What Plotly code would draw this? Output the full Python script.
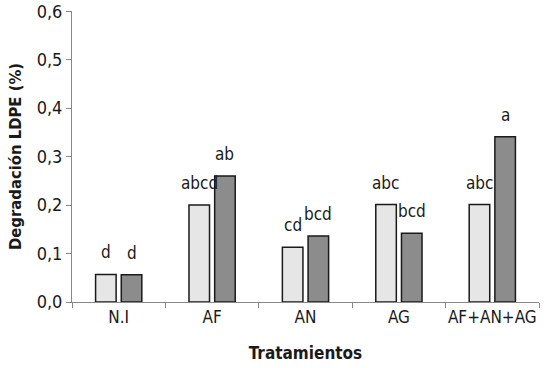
import plotly.graph_objects as go

categories = ["N.I", "AF", "AN", "AG", "AF+AN+AG"]
series1 = [0.057, 0.200, 0.113, 0.201, 0.201]
series2 = [0.056, 0.260, 0.136, 0.142, 0.341]
labels1 = ["d", "abcd", "cd", "abc", "abc"]
labels2 = ["d", "ab", "bcd", "bcd", "a"]
yticks = [0.0, 0.1, 0.2, 0.3, 0.4, 0.5, 0.6]

FONT = "DejaVu Sans Condensed, Roboto, sans-serif"

fig = go.Figure()
fig.add_trace(go.Bar(x=categories, y=series1,
                     marker=dict(color="#e6e6e6", line=dict(color="#1a1a1a", width=1.5))))
fig.add_trace(go.Bar(x=categories, y=series2,
                     marker=dict(color="#8c8c8c", line=dict(color="#1a1a1a", width=1.5))))

for cat, v, t in zip(categories, series1, labels1):
    fig.add_annotation(x=cat, y=v, text=t, showarrow=False, xshift=-12.8, yshift=10,
                       yanchor="bottom", font=dict(size=17, family=FONT, color="#1a1a1a"))
for cat, v, t in zip(categories, series2, labels2):
    fig.add_annotation(x=cat, y=v, text=t, showarrow=False, xshift=12.8, yshift=10,
                       yanchor="bottom", font=dict(size=17, family=FONT, color="#1a1a1a"))

fig.update_layout(
    width=546, height=368,
    margin=dict(l=72, r=7, t=11, b=66),
    plot_bgcolor="white", paper_bgcolor="white",
    showlegend=False,
    bargap=0.45, bargroupgap=0.2,
    separators=", ",
    font=dict(family=FONT, color="#1a1a1a", size=16),
)
fig.update_xaxes(showline=True, linecolor="#888888", linewidth=1, ticks="outside",
                 tickson="boundaries", ticklen=5, tickcolor="#888888", automargin=False,
                 tickangle=0, tickfont=dict(size=17, family=FONT),
                 title=dict(text="<b>Tratamientos</b>", font=dict(size=17, family=FONT), standoff=20))
fig.update_yaxes(range=[0, 0.6005], tickvals=yticks, tickformat=".1f", showline=True,
                 linecolor="#888888", linewidth=1, ticks="outside", ticklen=5,
                 tickcolor="#888888", showgrid=False, zeroline=False, automargin=False,
                 tickfont=dict(size=18, family=FONT),
                 title=dict(text="<b>Degradación LDPE (%)</b>", font=dict(size=16.5, family=FONT), standoff=10))

fig.write_html("out.html", config={"displayModeBar": False},
               post_script="document.body.style.margin='0';")
